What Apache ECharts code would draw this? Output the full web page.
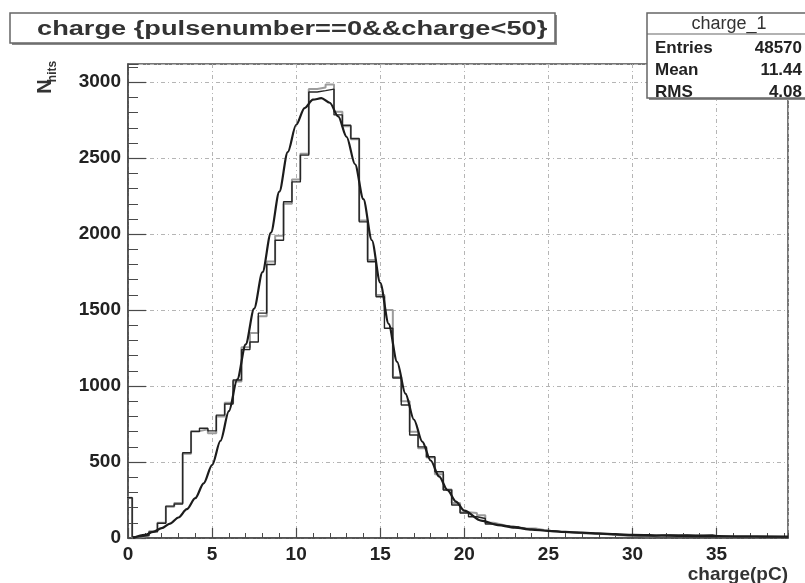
<!DOCTYPE html>
<html><head><meta charset="utf-8">
<script src="https://cdn.jsdelivr.net/npm/echarts@6/dist/echarts.min.js"></script>
<style>html,body{margin:0;padding:0;background:#fff}#c{width:805px;height:583px}</style>
</head><body><div id="c"></div>
<script>
// ---- data ----
const binStart = -0.25;   // lower edge of the first bin (pC)
const binWidth = 0.5;     // bin width (pC)
// black histogram: bins centred at 0, 0.5, 1.0 ... 39.0
const blackCounts = [265,8,18,40,97,210,224,561,700,722,705,809,882,1040,1240,1290,1480,1800,1960,2213,2344,2520,2936,2945,2955,2785,2717,2630,2081,1818,1588,1381,1053,875,678,600,535,436,316,217,165,140,128,92,85,78,72,60,57,50,47,42,38,36,34,30,26,24,20,16,14,14,13,18,20,19,20,19,18,20,10,9,8,9,8,7,8,7,6];
// grey histogram
const greyCounts = [265,5,15,45,100,205,230,555,705,715,690,800,890,1030,1255,1350,1460,1820,1990,2200,2360,2530,2955,2965,2985,2805,2710,2625,2090,1830,1600,1500,1060,900,700,590,530,420,320,230,170,165,150,100,88,75,70,62,62,52,45,40,38,35,30,28,26,22,18,15,14,12,12,16,18,18,18,17,16,16,10,9,8,8,7,7,7,6,6];
// fitted curve
const fitX = [0.3,1,1.5,2,2.5,3,3.5,4,4.5,5,5.5,6,6.5,7,7.5,8,8.5,9,9.5,10,10.5,11,11.5,12,12.5,13,13.5,14,14.5,15,15.5,16,16.5,17,17.5,18,18.5,19,19.5,20,21,22,23,24,25,26,27,28,29,30,32,34,36,39.25];
const fitY = [0,20,40,65,95,135,190,262,360,480,640,835,1045,1275,1510,1750,2010,2280,2540,2720,2830,2885,2895,2865,2775,2640,2460,2230,1960,1680,1410,1160,950,780,635,510,405,315,240,180,115,85,68,55,47,40,35,30,25,21,16,13,11,9];
const xTickStep = 5, yTickStep = 500;
const titleText = 'charge {pulsenumber==0&&charge<50}';
const statsName = 'charge_1';
const statsRows = [['Entries','48570'],['Mean','11.44'],['RMS','4.08']];

const FONT = 'Liberation Sans, Arial, sans-serif';
function histPoints(counts){
  const pts = counts.map((c,i)=>[binStart + i*binWidth, c]);
  pts.push([binStart + counts.length*binWidth, counts[counts.length-1]]);
  return pts;
}
const fitPts = fitX.map((x,i)=>[x, fitY[i]]);

const axisCol = '#4a4a4a';
const chart = echarts.init(document.getElementById('c'));
const statsGraphics = [];
statsRows.forEach((r,i)=>{
  const y = 48.5 + i*22;
  statsGraphics.push({type:'text', x:655, y:y, z:102, style:{text:r[0], font:'bold 17px '+FONT, fill:'#222', align:'left', verticalAlign:'middle'}});
  statsGraphics.push({type:'text', x:802, y:y, z:102, style:{text:r[1], font:'bold 17px '+FONT, fill:'#222', align:'right', verticalAlign:'middle'}});
});

chart.setOption({
  animation:false,
  backgroundColor:'#ffffff',
  grid:{left:128, right:17, top:64, bottom:45, show:true, borderColor:axisCol, borderWidth:1.5, backgroundColor:'transparent'},
  xAxis:[
    {type:'value', min:0, max:39.25, interval:xTickStep, position:'bottom',
     axisLine:{show:true, onZero:false, lineStyle:{color:axisCol, width:1.5}},
     axisTick:{show:true, inside:true, length:10, lineStyle:{color:axisCol, width:1.2}},
     axisLabel:{color:'#222', fontFamily:FONT, fontWeight:'bold', fontSize:19, margin:7, showMaxLabel:false, formatter:v=>String(v)},
     splitLine:{show:true, lineStyle:{color:'#b5b5b5', width:1, type:[4,3,1,3]}}},
    {type:'value', min:0, max:39.25, interval:1, position:'bottom',
     axisLine:{show:false, onZero:false}, axisTick:{show:true, inside:true, length:5, lineStyle:{color:axisCol, width:1}},
     axisLabel:{show:false}, splitLine:{show:false}}
  ],
  yAxis:[
    {type:'value', min:0, max:3120, interval:yTickStep, position:'left',
     axisLine:{show:true, onZero:false, lineStyle:{color:axisCol, width:1.5}},
     axisTick:{show:true, inside:true, length:18, lineStyle:{color:axisCol, width:1.2}},
     axisLabel:{color:'#222', fontFamily:FONT, fontWeight:'bold', fontSize:19, margin:7, showMaxLabel:false, formatter:v=>String(v)},
     splitLine:{show:true, lineStyle:{color:'#b5b5b5', width:1, type:[4,3,1,3]}}},
    {type:'value', min:0, max:3120, interval:100, position:'left',
     axisLine:{show:false, onZero:false}, axisTick:{show:true, inside:true, length:10, lineStyle:{color:axisCol, width:1}},
     axisLabel:{show:false}, splitLine:{show:false}}
  ],
  series:[
    {type:'line', name:'grey', xAxisIndex:0, yAxisIndex:0, step:'end', symbol:'none', data:histPoints(greyCounts),
     lineStyle:{color:'#9c9c9c', width:2}, z:2},
    {type:'line', name:'black', xAxisIndex:0, yAxisIndex:0, step:'end', symbol:'none', data:histPoints(blackCounts),
     lineStyle:{color:'#262626', width:1.4}, z:3},
    {type:'line', name:'fit', xAxisIndex:0, yAxisIndex:0, smooth:0.3, smoothMonotone:'x', symbol:'none', data:fitPts,
     lineStyle:{color:'#1c1c1c', width:2.2}, z:4}
  ],
  graphic:[
    // title box
    {type:'rect', z:100, shape:{x:12, y:15, width:545, height:30}, style:{fill:'#8a8a8a'}},
    {type:'rect', z:101, shape:{x:10, y:13, width:545, height:30}, style:{fill:'#fff', stroke:'#666', lineWidth:1.5}},
    {type:'text', z:102, x:37, y:29, scaleX:1.36, style:{text:titleText, font:'bold 20px '+FONT, fill:'#333', align:'left', verticalAlign:'middle'}},
    // stats box
    {type:'rect', z:100, shape:{x:649, y:15, width:170, height:85}, style:{fill:'#8a8a8a'}},
    {type:'rect', z:101, shape:{x:647, y:13, width:170, height:85}, style:{fill:'#fff', stroke:'#666', lineWidth:1.5}},
    {type:'line', z:102, shape:{x1:647, y1:34, x2:805, y2:34}, style:{stroke:'#666', lineWidth:1.2}},
    {type:'text', z:102, x:729, y:24, style:{text:statsName, font:'18px '+FONT, fill:'#333', align:'center', verticalAlign:'middle'}},
    ...statsGraphics,
    // axis titles
    {type:'text', z:102, x:45, y:86.5, rotation:Math.PI/2, style:{text:'N', font:'bold 20px '+FONT, fill:'#333', align:'center', verticalAlign:'middle'}},
    {type:'text', z:102, x:53, y:71.5, rotation:Math.PI/2, style:{text:'hits', font:'bold 12px '+FONT, fill:'#333', align:'center', verticalAlign:'middle'}},
    {type:'text', z:102, x:788, y:575, style:{text:'charge(pC)', font:'bold 19px '+FONT, fill:'#333', align:'right', verticalAlign:'middle'}}
  ]
});
</script></body></html>
